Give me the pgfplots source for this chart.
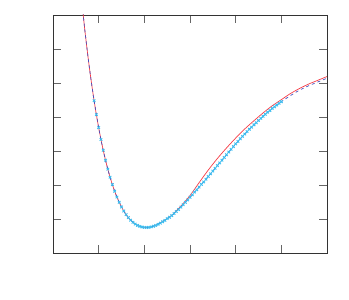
\documentclass[border=0pt]{standalone}
\usepackage{pgfplots}
\pgfplotsset{compat=1.18}
\definecolor{cRed}{RGB}{245,60,70}
\definecolor{cDash}{RGB}{70,80,190}
\definecolor{cMark}{RGB}{60,190,240}
\begin{document}
\begin{tikzpicture}
\path[use as bounding box] (-53pt,-47pt) rectangle (296pt,253pt);
\begin{axis}[
  at={(0,0)}, anchor=south west,
  scale only axis, width=274pt, height=238pt,
  xmin=0, xmax=6, ymin=0, ymax=7,
  xtick={0,1,2,3,4,5,6}, ytick={0,1,2,3,4,5,6,7},
  xticklabels={}, yticklabels={},
  major tick length=8pt,
  tick align=inside,
  axis line style={black!80, line width=0.8pt},
  every tick/.style={black!60, line width=0.8pt},
  clip=true,
]
% data markers
\addplot[only marks, mark=x, mark size=1.8pt, color=cMark, line width=0.9pt] coordinates {
(0.9,4.480)(0.95,4.067)(1.0,3.686)(1.05,3.338)(1.1,3.020)(1.15,2.730)(1.2,2.466)(1.25,2.227)
(1.3,2.011)(1.35,1.817)(1.4,1.644)(1.45,1.490)(1.5,1.353)(1.55,1.234)(1.6,1.130)(1.65,1.040)
(1.7,0.965)(1.75,0.902)(1.8,0.852)(1.85,0.812)(1.9,0.783)(1.95,0.763)(2.0,0.753)(2.05,0.750)
(2.1,0.755)(2.15,0.768)(2.2,0.787)(2.25,0.812)(2.3,0.843)(2.35,0.878)(2.4,0.92)(2.45,0.96)
(2.5,1.01)(2.55,1.05)(2.6,1.10)(2.65,1.16)(2.7,1.22)(2.75,1.28)(2.8,1.35)(2.85,1.42)
(2.9,1.49)(2.95,1.56)(3.0,1.64)(3.05,1.71)(3.1,1.79)(3.15,1.86)(3.2,1.94)(3.25,2.02)
(3.3,2.09)(3.35,2.17)(3.4,2.25)(3.45,2.33)(3.5,2.41)(3.55,2.49)(3.6,2.57)(3.65,2.65)
(3.7,2.73)(3.75,2.81)(3.8,2.89)(3.85,2.97)(3.9,3.05)(3.95,3.13)(4.0,3.21)(4.05,3.28)
(4.1,3.36)(4.15,3.43)(4.2,3.50)(4.25,3.57)(4.3,3.64)(4.35,3.70)(4.4,3.77)(4.45,3.83)
(4.5,3.90)(4.55,3.96)(4.6,4.02)(4.65,4.08)(4.7,4.14)(4.75,4.19)(4.8,4.25)(4.85,4.30)
(4.9,4.35)(4.95,4.40)(5.0,4.45)
};
% red solid curve
\addplot[color=cRed, line width=0.7pt, smooth, no marks] coordinates {
(0.6,7.803)(0.7,6.520)(0.8,5.419)(0.9,4.480)(1.0,3.686)(1.1,3.020)(1.2,2.466)(1.3,2.011)
(1.4,1.644)(1.5,1.353)(1.6,1.130)(1.7,0.965)(1.8,0.852)(1.9,0.783)(2.0,0.753)(2.1,0.755)
(2.2,0.787)(2.4,0.93)(2.6,1.11)(2.8,1.38)(3.0,1.69)(3.2,2.07)(3.4,2.44)(3.6,2.78)
(3.8,3.09)(4.0,3.38)(4.2,3.65)(4.4,3.89)(4.6,4.12)(4.8,4.33)(5.0,4.51)(5.2,4.69)
(5.4,4.84)(5.6,4.97)(5.8,5.08)(6.0,5.19)
};
% dashed curve
\addplot[color=cDash, line width=0.7pt, dashed, smooth, no marks] coordinates {
(0.6,7.803)(0.7,6.520)(0.8,5.419)(0.9,4.480)(1.0,3.686)(1.1,3.020)(1.2,2.466)(1.3,2.011)
(1.4,1.644)(1.5,1.353)(1.6,1.130)(1.7,0.965)(1.8,0.852)(1.9,0.783)(2.0,0.753)(2.1,0.755)
(2.2,0.787)(2.4,0.92)(2.6,1.10)(2.8,1.35)(3.0,1.64)(3.2,1.94)(3.4,2.25)(3.6,2.57)
(3.8,2.89)(4.0,3.21)(4.2,3.50)(4.4,3.77)(4.6,4.02)(4.8,4.25)(5.0,4.45)(5.2,4.63)
(5.4,4.79)(5.6,4.92)(5.8,5.03)(6.0,5.14)
};
\end{axis}
\end{tikzpicture}
\end{document}
